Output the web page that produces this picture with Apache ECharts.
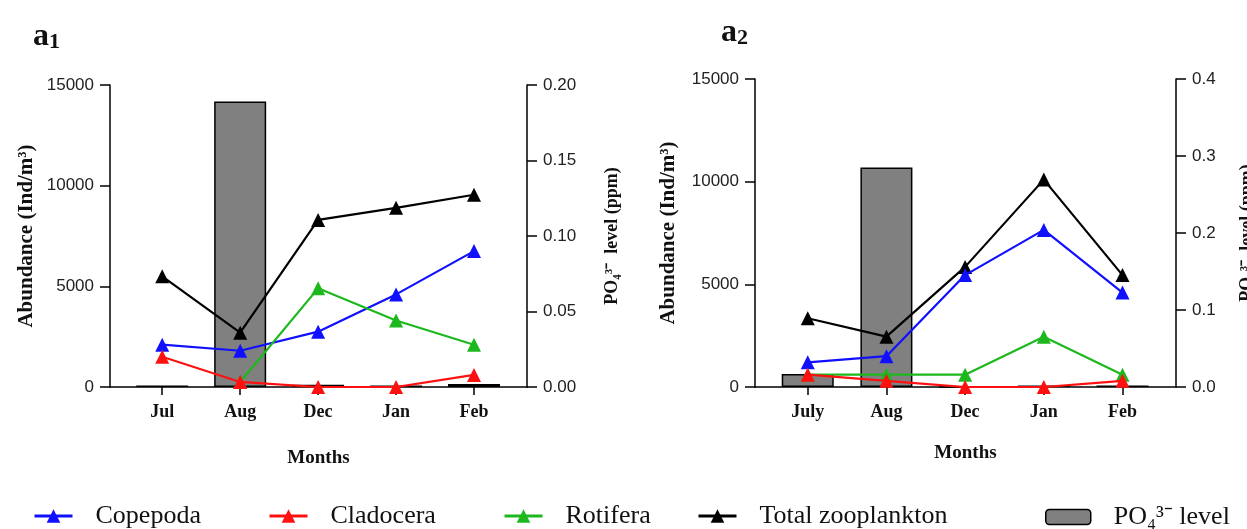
<!DOCTYPE html>
<html><head><meta charset="utf-8">
<script src="https://cdn.jsdelivr.net/npm/echarts@6/dist/echarts.min.js"></script>
<style>html,body{margin:0;padding:0;background:#fff}#c{width:1247px;height:529px}</style>
</head><body><div id="c"></div>
<script>
// ---- data ----
const months1 = ['Jul', 'Aug', 'Dec', 'Jan', 'Feb'];
const months2 = ['July', 'Aug', 'Dec', 'Jan', 'Feb'];
const copepoda1 = [2100, 1800, 2750, 4600, 6750];
const cladocera1 = [1500, 250, 0, 0, 600];
const rotifera1 = [null, 250, 4900, 3300, 2100];
const total1 = [5500, 2700, 8300, 8900, 9550];
const po4_1 = [0.001, 0.189, 0.0015, 0.001, 0.002];
const copepoda2 = [1200, 1500, 5450, 7650, 4600];
const cladocera2 = [600, 300, 0, 0, 300];
const rotifera2 = [600, 600, 600, 2450, 600];
const total2 = [3350, 2450, 5850, 10100, 5450];
const po4_2 = [0.017, 0.285, 0, 0.002, 0.002];

const SERIF = 'Liberation Serif';
const SANS = 'Liberation Sans';
const idx = months1.map((m, i) => i);
const pair = arr => arr.map((v, i) => [i, v]);

function xAxisDef(g, labels, nameGap) {
  return {
    type: 'value', gridIndex: g, min: -0.67, max: 4.68,
    axisLine: { show: true, onZero: false, lineStyle: { color: '#000', width: 1.5 } },
    axisTick: { show: true, customValues: idx, length: 8, lineStyle: { color: '#000', width: 1.5 } },
    axisLabel: { customValues: idx, formatter: v => labels[Math.round(v)], fontFamily: SERIF, fontWeight: 'bold', fontSize: 18, color: '#111', margin: 16 },
    splitLine: { show: false },
    name: 'Months', nameLocation: 'middle', nameGap: nameGap,
    nameTextStyle: { fontFamily: SERIF, fontWeight: 'bold', fontSize: 19, color: '#111' }
  };
}
function yLeft(g, gap) {
  return {
    type: 'value', gridIndex: g, position: 'left', min: 0, max: 15000, interval: 5000,
    axisLine: { show: true, onZero: false, lineStyle: { color: '#000', width: 1.5 } },
    axisTick: { show: true, length: 10, lineStyle: { color: '#000', width: 1.5 } },
    axisLabel: { fontFamily: SANS, fontSize: 17, color: '#222', margin: 16, formatter: v => String(v) },
    splitLine: { show: false },
    name: 'Abundance (Ind/m³)', nameLocation: 'middle', nameRotate: 90, nameGap: gap,
    nameTextStyle: { fontFamily: SERIF, fontWeight: 'bold', fontSize: 21, color: '#111' }
  };
}
function yRight(g, max, step, dec, gap) {
  return {
    type: 'value', gridIndex: g, position: 'right', min: 0, max: max, interval: step,
    axisLine: { show: true, onZero: false, lineStyle: { color: '#000', width: 1.5 } },
    axisTick: { show: true, length: 10, lineStyle: { color: '#000', width: 1.5 } },
    axisLabel: { fontFamily: SANS, fontSize: 17, color: '#222', margin: 16, formatter: v => v.toFixed(dec) },
    splitLine: { show: false },
    name: 'PO₄³⁻  level (ppm)', nameLocation: 'middle', nameRotate: 90, nameGap: gap,
    nameTextStyle: { fontFamily: SERIF, fontWeight: 'bold', fontSize: 18, color: '#111' }
  };
}
function lineSeries(name, color, data, g, z) {
  return {
    type: 'line', name: name, xAxisIndex: g, yAxisIndex: g * 2, data: pair(data), z: z,
    symbol: 'triangle', symbolSize: 14, connectNulls: false,
    lineStyle: { color: color, width: 2.2 }, itemStyle: { color: color },
    emphasis: { disabled: true }
  };
}
function barSeries(data, g) {
  return {
    type: 'bar', name: 'PO₄³⁻ level', xAxisIndex: g, yAxisIndex: g * 2 + 1, data: pair(data), z: 1,
    barWidth: 52,
    itemStyle: { color: '#808080', borderColor: '#000', borderWidth: 1.5 },
    emphasis: { disabled: true }
  };
}
const BLUE = '#1010ff', RED = '#ff1010', GREEN = '#1db81d', BLACK = '#000000';
function legendDef(name, left, extra) {
  return Object.assign({
    data: [name], left: left, top: 498, itemWidth: 38, itemHeight: 17, selectedMode: false,
    lineStyle: { width: 3 },
    textStyle: { fontFamily: SERIF, fontSize: 26, color: '#111', padding: [0, 0, 0, 18] }
  }, extra || {});
}

const chart = echarts.init(document.getElementById('c'), null, { renderer: 'canvas' });
chart.setOption({
  animation: false,
  backgroundColor: '#fff',
  title: [
    { text: '{a|a}{s|1}', left: 28, top: 16, textStyle: { rich: { a: { fontFamily: SERIF, fontWeight: 'bold', fontSize: 32, color: '#111' }, s: { fontFamily: SERIF, fontWeight: 'bold', fontSize: 22, color: '#111', padding: [10, 0, 0, 0] } } } },
    { text: '{a|a}{s|2}', left: 716, top: 12, textStyle: { rich: { a: { fontFamily: SERIF, fontWeight: 'bold', fontSize: 32, color: '#111' }, s: { fontFamily: SERIF, fontWeight: 'bold', fontSize: 22, color: '#111', padding: [10, 0, 0, 0] } } } }
  ],
  grid: [
    { left: 110, top: 85, width: 417, height: 302, containLabel: false, outerBoundsMode: 'none' },
    { left: 755, top: 79, width: 421, height: 308, containLabel: false, outerBoundsMode: 'none' }
  ],
  legend: [
    legendDef('Copepoda', 28),
    legendDef('Cladocera', 263),
    legendDef('Rotifera', 498),
    legendDef('Total zooplankton', 692),
    legendDef('PO₄³⁻ level', 1040, { itemWidth: 45, itemHeight: 15, top: 499, itemStyle: { borderColor: '#000', borderWidth: 1.5 } })
  ],
  xAxis: [xAxisDef(0, months1, 62), xAxisDef(1, months2, 57)],
  yAxis: [yLeft(0, 73), yRight(0, 0.2, 0.05, 2, 76), yLeft(1, 76), yRight(1, 0.4, 0.1, 1, 62)],
  series: [
    barSeries(po4_1, 0),
    lineSeries('Total zooplankton', BLACK, total1, 0, 3),
    lineSeries('Copepoda', BLUE, copepoda1, 0, 4),
    lineSeries('Rotifera', GREEN, rotifera1, 0, 5),
    lineSeries('Cladocera', RED, cladocera1, 0, 6),
    barSeries(po4_2, 1),
    lineSeries('Total zooplankton', BLACK, total2, 1, 3),
    lineSeries('Copepoda', BLUE, copepoda2, 1, 4),
    lineSeries('Rotifera', GREEN, rotifera2, 1, 5),
    lineSeries('Cladocera', RED, cladocera2, 1, 6)
  ]
});
</script></body></html>
